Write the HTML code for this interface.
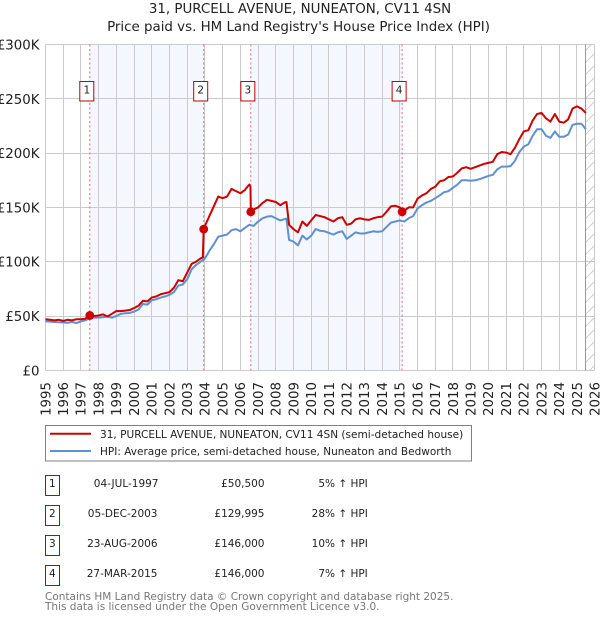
<!DOCTYPE html>
<html lang="en">
<head>
<meta charset="utf-8">
<title>31, PURCELL AVENUE, NUNEATON, CV11 4SN</title>
<style>
html,body{margin:0;padding:0;background:#fff;}
svg{display:block;font-family:"DejaVu Sans","Liberation Sans",sans-serif;}
</style>
</head>
<body>
<svg id="root" xmlns="http://www.w3.org/2000/svg" width="600" height="620" viewBox="0 0 600 620">
  <defs>
    <pattern id="hatch" patternUnits="userSpaceOnUse" width="12" height="12">
      <line x1="0" y1="12" x2="12" y2="0" stroke="#cccccc" stroke-width="1"></line>
    </pattern>
  </defs>
  <rect x="0" y="0" width="600" height="620" fill="#fff"></rect>
  <text x="300" y="13" font-size="13.4" text-anchor="middle" fill="#222">31, PURCELL AVENUE, NUNEATON, CV11 4SN</text>
  <text x="298.5" y="31" font-size="13.4" text-anchor="middle" fill="#222">Price paid vs. HM Land Registry's House Price Index (HPI)</text>
  <g id="plot"></g>

  <g>
    <rect x="45.5" y="425.5" width="426" height="35.5" fill="#fff" stroke="#808080" stroke-width="1"></rect>
    <line x1="50" y1="433.8" x2="91" y2="433.8" stroke="#cc0000" stroke-width="2"></line>
    <text x="100" y="438" font-size="10.55" fill="#222">31, PURCELL AVENUE, NUNEATON, CV11 4SN (semi-detached house)</text>
    <line x1="50" y1="451" x2="91" y2="451" stroke="#6090d0" stroke-width="2"></line>
    <text x="100" y="455" font-size="10.5" fill="#222">HPI: Average price, semi-detached house, Nuneaton and Bedworth</text>
  </g>

  <g font-size="10.5" fill="#222">
    <g>
      <rect x="45.5" y="475.5" width="14" height="20" fill="#fff" stroke="#c00000" stroke-width="1"></rect>
      <text x="52.3" y="487" text-anchor="middle">1</text>
      <text x="158.5" y="487" text-anchor="end">04-JUL-1997</text>
      <text x="264.5" y="487" text-anchor="end">£50,500</text>
      <text x="367.8" y="487" text-anchor="end">5% ↑ HPI</text>
    </g>
    <g>
      <rect x="45.5" y="505.5" width="14" height="20" fill="#fff" stroke="#c00000" stroke-width="1"></rect>
      <text x="52.3" y="517" text-anchor="middle">2</text>
      <text x="157.5" y="517" text-anchor="end">05-DEC-2003</text>
      <text x="264.5" y="517" text-anchor="end">£129,995</text>
      <text x="367.8" y="517" text-anchor="end">28% ↑ HPI</text>
    </g>
    <g>
      <rect x="45.5" y="535.5" width="14" height="20" fill="#fff" stroke="#c00000" stroke-width="1"></rect>
      <text x="52.3" y="547" text-anchor="middle">3</text>
      <text x="157.5" y="547" text-anchor="end">23-AUG-2006</text>
      <text x="264.5" y="547" text-anchor="end">£146,000</text>
      <text x="367.8" y="547" text-anchor="end">10% ↑ HPI</text>
    </g>
    <g>
      <rect x="45.5" y="565.5" width="14" height="20" fill="#fff" stroke="#c00000" stroke-width="1"></rect>
      <text x="52.3" y="577" text-anchor="middle">4</text>
      <text x="157.5" y="577" text-anchor="end">27-MAR-2015</text>
      <text x="264.5" y="577" text-anchor="end">£146,000</text>
      <text x="367.8" y="577" text-anchor="end">7% ↑ HPI</text>
    </g>
  </g>

  <text x="45" y="600" font-size="10.5" fill="#777">Contains HM Land Registry data © Crown copyright and database right 2025.</text>
  <text x="45" y="610" font-size="10.5" fill="#777">This data is licensed under the Open Government Licence v3.0.</text>
</svg>

<script>
var yearTicks = [1995,1996,1997,1998,1999,2000,2001,2002,2003,2004,2005,2006,2007,2008,2009,2010,2011,2012,2013,2014,2015,2016,2017,2018,2019,2020,2021,2022,2023,2024,2025,2026];
var valueTicks = [0,50,100,150,200,250,300];
var valueTickLabels = ['£0','£50K','£100K','£150K','£200K','£250K','£300K'];

var hpiDates = [
1995,1995.25,1995.5,1995.75,1996,1996.25,1996.5,1996.75,1997,1997.25,1997.5,1997.75,
1998,1998.25,1998.5,1998.75,1999,1999.25,1999.5,1999.75,2000,2000.25,2000.5,2000.75,
2001,2001.25,2001.5,2001.75,2002,2002.25,2002.5,2002.75,2003,2003.25,2003.5,2003.75,
2004,2004.25,2004.5,2004.75,2005,2005.25,2005.5,2005.75,2006,2006.25,2006.5,2006.75,
2007,2007.25,2007.5,2007.75,2008,2008.25,2008.6,2008.75,2009,2009.25,2009.5,2009.75,
2010,2010.25,2010.5,2010.75,2011,2011.25,2011.5,2011.75,2012,2012.25,2012.5,2012.75,
2013,2013.25,2013.5,2013.75,2014,2014.25,2014.5,2014.75,2015,2015.25,2015.5,2015.75,
2016,2016.25,2016.5,2016.75,2017,2017.25,2017.5,2017.75,2018,2018.25,2018.5,2018.75,
2019,2019.25,2019.5,2019.75,2020,2020.25,2020.5,2020.75,2021,2021.25,2021.5,2021.75,
2022,2022.25,2022.5,2022.75,2023,2023.25,2023.5,2023.75,2024,2024.25,2024.5,2024.75,
2025,2025.25,2025.5];
var hpiValues = [
45,44.8,44.5,44.2,44,43.8,44.5,43.5,45,46,48,48.5,
48.5,49,49.5,48.5,50,52,52.5,52.8,54,56,61,60.5,
64.5,65.5,67,68,69.5,72,78,79,84,93,97,100,
103,110,116,123,124,125,129,130,128,131,134,133,
137,140,141.5,142,140,138,139.7,120,118.5,115,124,120.5,
124,130,128.5,128,126.5,125,127,128,121,124,127,126,
126,127,128,127.5,128,132,136,137,138,137,140,142,
149,152,154.5,156,158.5,161,164,165,168,171,175,175,
174.5,175,176,177.5,179,180,185,187.5,187.5,188,193,201,
206,208,216,222,222,216,214,220,215,215,217,226,
227,227,222];

var priceDates = [
1995,1995.25,1995.5,1995.75,1996,1996.25,1996.5,1996.75,1997,1997.25,1997.5,1997.75,
1998,1998.25,1998.5,1998.75,1999,1999.25,1999.5,1999.75,2000,2000.25,2000.5,2000.75,
2001,2001.25,2001.5,2001.75,2002,2002.25,2002.5,2002.75,2003,2003.25,2003.5,2003.75,2003.88,2003.93,
2004,2004.25,2004.5,2004.75,2005,2005.25,2005.5,2005.75,2006,2006.25,2006.5,2006.57,2006.59,2006.75,
2007,2007.25,2007.5,2007.75,2008,2008.25,2008.5,2008.6,2008.75,2009,2009.25,2009.5,2009.75,
2010,2010.25,2010.5,2010.75,2011,2011.25,2011.5,2011.75,2012,2012.25,2012.5,2012.75,
2013,2013.25,2013.5,2013.75,2014,2014.25,2014.5,2014.75,2015,2015.13,2015.25,2015.5,2015.75,
2016,2016.25,2016.5,2016.75,2017,2017.25,2017.5,2017.75,2018,2018.25,2018.5,2018.75,
2019,2019.25,2019.5,2019.75,2020,2020.25,2020.5,2020.75,2021,2021.25,2021.5,2021.75,
2022,2022.25,2022.5,2022.75,2023,2023.25,2023.5,2023.75,2024,2024.25,2024.5,2024.75,
2025,2025.25,2025.5];
var priceValues = [
47,46.5,46,46.5,45.5,46.5,46,47,47,47.5,50.5,50,
50.5,51.5,49.5,52,54.6,54.5,55,55.5,57.3,59.5,64,63.5,
67,68,70,71,72,76,83,82,90,98,100,103,104,130,
133,142,151,160,158.5,160,167,165,163,166,171,169,146,148,
150,154,157,156,155,152,154.5,155,134,130,127,137,133,
138,143,142,141,139,137,140,141,134,135,139,140,
139,138.5,140,141,141.5,146,151,151.5,150,146,147,150,150,
158,161,163,167,169,174,175,178,178.5,182,186,187,
185.5,187,188.5,190,191,192,199,201,200.5,199,205,213,
220,221,230,236,237,232,229,236,229,228,231,241,
243,241,237];

var saleLabels = ['1','2','3','4'];
var saleDates = [1997.5,2003.93,2006.59,2015.13];
var salePrices = [50.5,130,146,146];
var forecastStart = 2025.5;

var NS = 'http://www.w3.org/2000/svg';
var plot = document.getElementById('plot');
var LEFT = 45.5, RIGHT = 594.7, TOP = 44.5, BOTTOM = 370.3;

function xScale(d){ return LEFT + (d - 1995) * (RIGHT - LEFT) / (2026 - 1995); }
function yScale(v){ return BOTTOM - v * (BOTTOM - TOP) / 300; }
function snap(p){ return Math.floor(p) + 0.5; }
function mk(tag, attrs, parent){
  var el = document.createElementNS(NS, tag);
  for (var k in attrs) el.setAttribute(k, attrs[k]);
  (parent || plot).appendChild(el);
  return el;
}
function linePath(dates, values){
  var s = '';
  for (var i = 0; i < dates.length; i++) {
    s += (i ? 'L' : 'M') + xScale(dates[i]).toFixed(2) + ' ' + yScale(values[i]).toFixed(2);
  }
  return s;
}

var i, el;

for (i = 0; i + 1 < saleDates.length; i += 2) {
  el = mk('rect', {x: xScale(saleDates[i]), y: TOP, width: xScale(saleDates[i + 1]) - xScale(saleDates[i]), height: BOTTOM - TOP, fill: '#f4f7fe'});
  
  
}

el = mk('rect', {x: xScale(forecastStart), y: TOP, width: RIGHT - xScale(forecastStart), height: BOTTOM - TOP, fill: 'url(#hatch)'});



for (i = 0; i < yearTicks.length; i++) {
  var gx = snap(xScale(yearTicks[i]));
  el = mk('line', {x1: gx, x2: gx, y1: TOP, y2: BOTTOM, stroke: '#cbcbcb', 'stroke-width': 1});
  
  
  el = mk('text', {transform: 'translate(' + (xScale(yearTicks[i]) + 4.8) + ',382) rotate(-90)', 'font-size': 13.33, 'text-anchor': 'end', fill: '#222'});
  el.textContent = String(yearTicks[i]);
  
  
}

for (i = 0; i < valueTicks.length; i++) {
  var gy = snap(yScale(valueTicks[i]));
  el = mk('line', {x1: LEFT, x2: RIGHT, y1: gy, y2: gy, stroke: '#cbcbcb', 'stroke-width': 1});
  
  
  el = mk('text', {x: 39.5, y: yScale(valueTicks[i]) + 5, 'font-size': 13.33, 'text-anchor': 'end', fill: '#222'});
  el.textContent = valueTickLabels[i];
  
  
}

var fx = snap(xScale(forecastStart));
el = mk('line', {x1: fx, x2: fx, y1: TOP, y2: BOTTOM, stroke: '#999', 'stroke-width': 1});



for (i = 0; i < saleDates.length; i++) {
  var sx = xScale(saleDates[i]);
  el = mk('line', {x1: sx, x2: sx, y1: TOP, y2: BOTTOM, stroke: '#ee6677', 'stroke-width': 1, 'stroke-dasharray': '2 2.5'});
  
  
}

el = mk('path', {d: linePath(hpiDates, hpiValues), fill: 'none', stroke: '#6090d0', 'stroke-width': 2, 'stroke-linejoin': 'round'});



el = mk('path', {d: linePath(priceDates, priceValues), fill: 'none', stroke: '#cc0000', 'stroke-width': 2, 'stroke-linejoin': 'round'});



for (i = 0; i < saleDates.length; i++) {
  el = mk('circle', {cx: xScale(saleDates[i]), cy: yScale(salePrices[i]), r: 4.4, fill: '#cc0000'});
  
  
  var bx = xScale(saleDates[i]) - 10;
  el = mk('rect', {x: bx, y: 81.5, width: 14, height: 19.5, fill: '#fff', stroke: '#c00000', 'stroke-width': 1});
  
  
  el = mk('text', {x: bx + 7, y: 93.5, 'font-size': 10.5, 'text-anchor': 'middle', fill: '#222'});
  el.textContent = saleLabels[i];
  
  
}
</script>
</body>
</html>
